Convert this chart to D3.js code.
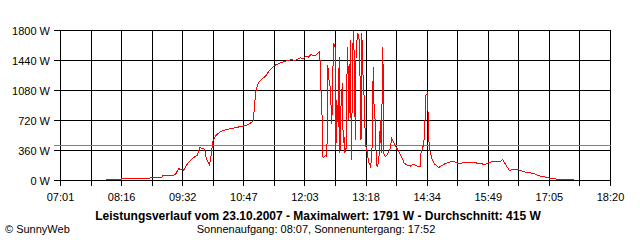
<!DOCTYPE html>
<html>
<head>
<meta charset="utf-8">
<script src="https://cdn.jsdelivr.net/npm/d3@7"></script>
<style>
body { margin: 0; background: #fff; }
text { font-family: "Liberation Sans", Arial, sans-serif; fill: #000; }
</style>
</head>
<body>
<div id="chart"></div>
<script>
// measured power, one time per value
var times = [
	"07:57","08:16","08:17","08:51","08:52","09:06","09:07","09:20","09:23","09:27",
	"09:29","09:33","09:38","09:45","09:50","09:53","09:59","10:01","10:05","10:07",
	"10:09","10:12","10:18","10:26","10:38","10:51","10:58","10:59","11:02","11:05",
	"11:08","11:14","11:20","11:26","11:36","11:46","11:50","11:57","12:01","12:04",
	"12:07","12:10","12:13","12:16","12:19","12:21",
	"12:22","12:23","12:24","12:25","12:26","12:28","12:29","12:30","12:31","12:33",
	"12:34","12:35","12:36","12:38","12:39","12:40","12:41","12:42","12:44","12:45",
	"12:46","12:47","12:49","12:50","12:51","12:52","12:54","12:55","12:56","12:57",
	"12:59","13:00","13:01","13:02","13:03","13:05","13:06","13:07","13:08","13:10",
	"13:11","13:12","13:13","13:15","13:16","13:17","13:18","13:20","13:21","13:22",
	"13:23","13:24","13:26","13:27","13:28","13:29","13:31","13:32","13:33","13:34",
	"13:36","13:37","13:39","13:40","13:42","13:44","13:48","13:50","13:53","13:55",
	"13:58","14:00","14:03","14:05","14:09","14:13","14:16","14:20","14:23","14:25",
	"14:26","14:29","14:30","14:31","14:32","14:34","14:35","14:36","14:37","14:40",
	"14:43","14:48","14:56","15:02","15:08","15:12","15:18","15:25","15:33","15:39",
	"15:45","15:49","15:54","16:04","16:07","16:11","16:15","16:22","16:28","16:33",
	"16:41","16:47","16:53","17:00","17:05","17:14","17:26","17:35"
];
var watts = [
	12,12,24,24,40,40,55,60,75,144,
	130,124,204,272,304,396,376,264,184,304,
	464,532,584,612,636,664,704,724,1064,1164,
	1204,1252,1332,1384,1424,1452,1440,1471,1460,1491,
	1480,1512,1500,1503,1530,1543,
	1290,940,760,283,280,300,290,403,1384,1144,
	1124,904,684,1644,1624,1604,364,964,644,1484,
	328,844,1168,448,524,328,403,1604,1364,724,
	1684,244,884,1624,1791,484,1664,1676,1764,1684,
	1124,484,1764,1084,1004,604,404,324,244,204,
	184,164,444,1364,924,824,204,164,204,244,
	724,328,1604,330,283,304,384,504,444,404,
	364,324,264,212,184,172,192,184,164,172,
	324,424,504,724,1024,1046,744,444,364,244,
	196,156,204,224,224,204,212,220,212,204,
	192,212,228,228,252,184,124,132,124,104,
	92,76,52,40,28,16,12,12
];

var yTicks = [0, 360, 720, 1080, 1440, 1800];
var xLabels = ["07:01","08:16","09:32","10:47","12:03","13:18","14:34","15:49","17:05","18:20"];
var average = 415;
var title = "Leistungsverlauf vom 23.10.2007 - Maximalwert: 1791 W - Durchschnitt: 415 W";
var subtitle = "Sonnenaufgang: 08:07, Sonnenuntergang: 17:52";
var credit = "\u00a9 SunnyWeb";

var w = 640;
var h = 240;

function toMin(s) {
	var p = s.split(":");
	return +p[0] * 60 + +p[1];
}

var data = times.map(function(t, i) { return {t: toMin(t), v: watts[i]}; });

var tStart = toMin(xLabels[0]);
var tEnd = toMin(xLabels[xLabels.length - 1]);

var xScale = d3.scaleLinear()
	.domain([tStart, tEnd])
	.range([60.5, 610.5]);

var yScale = d3.scaleLinear()
	.domain([0, 1800])
	.range([180.5, 30.5]);

// grid every half label step
var gridTimes = d3.range(19).map(function(i) { return tStart + i * (tEnd - tStart) / 18; });

var svg = d3.select("#chart")
	.append("svg")
	.attr("width", w)
	.attr("height", h);

svg.append("rect")
	.attr("width", w)
	.attr("height", h)
	.attr("fill", "#fff");

// vertical grid lines, running a bit below the base line
svg.append("g")
	.selectAll("line")
	.data(gridTimes)
	.enter()
	.append("line")
	.attr("x1", function(d) { return Math.round(xScale(d) - 0.5) + 0.5; })
	.attr("x2", function(d) { return Math.round(xScale(d) - 0.5) + 0.5; })
	.attr("y1", yScale(1800))
	.attr("y2", yScale(0) + 5)
	.attr("stroke", "#000")
	.attr("shape-rendering", "crispEdges");

// horizontal grid lines with small ticks on the left
svg.append("g")
	.selectAll("line")
	.data(yTicks)
	.enter()
	.append("line")
	.attr("x1", 54)
	.attr("x2", xScale(tEnd))
	.attr("y1", function(d) { return yScale(d); })
	.attr("y2", function(d) { return yScale(d); })
	.attr("stroke", "#000")
	.attr("shape-rendering", "crispEdges");

// average line
svg.append("line")
	.attr("x1", 54)
	.attr("x2", xScale(tEnd))
	.attr("y1", Math.round(yScale(average) - 0.5) + 0.5)
	.attr("y2", Math.round(yScale(average) - 0.5) + 0.5)
	.attr("stroke", "#808080")
	.attr("shape-rendering", "crispEdges");

// y labels
svg.append("g")
	.selectAll("text")
	.data(yTicks)
	.enter()
	.append("text")
	.attr("x", 50)
	.attr("y", function(d) { return yScale(d) + 4; })
	.attr("text-anchor", "end")
	.style("font-size", "11px")
	.text(function(d) { return d + " W"; });

// x labels
svg.append("g")
	.selectAll("text")
	.data(xLabels)
	.enter()
	.append("text")
	.attr("x", function(d, i) { return xScale(gridTimes[i * 2]); })
	.attr("y", 201)
	.attr("text-anchor", "middle")
	.style("font-size", "11px")
	.text(function(d) { return d; });

var line = d3.line()
	.x(function(d) { return xScale(d.t); })
	.y(function(d) { return yScale(d.v); });

svg.append("path")
	.datum(data)
	.attr("d", line)
	.attr("fill", "none")
	.attr("stroke", "#ff0000")
	.attr("stroke-width", 1)
	.attr("shape-rendering", "crispEdges");

svg.append("text")
	.attr("x", 318)
	.attr("y", 220)
	.attr("text-anchor", "middle")
	.style("font-size", "12px")
	.style("font-weight", "bold")
	.text(title);

svg.append("text")
	.attr("x", 316)
	.attr("y", 233)
	.attr("text-anchor", "middle")
	.style("font-size", "11px")
	.text(subtitle);

svg.append("text")
	.attr("x", 5)
	.attr("y", 233)
	.style("font-size", "11px")
	.text(credit);
</script>
</body>
</html>
